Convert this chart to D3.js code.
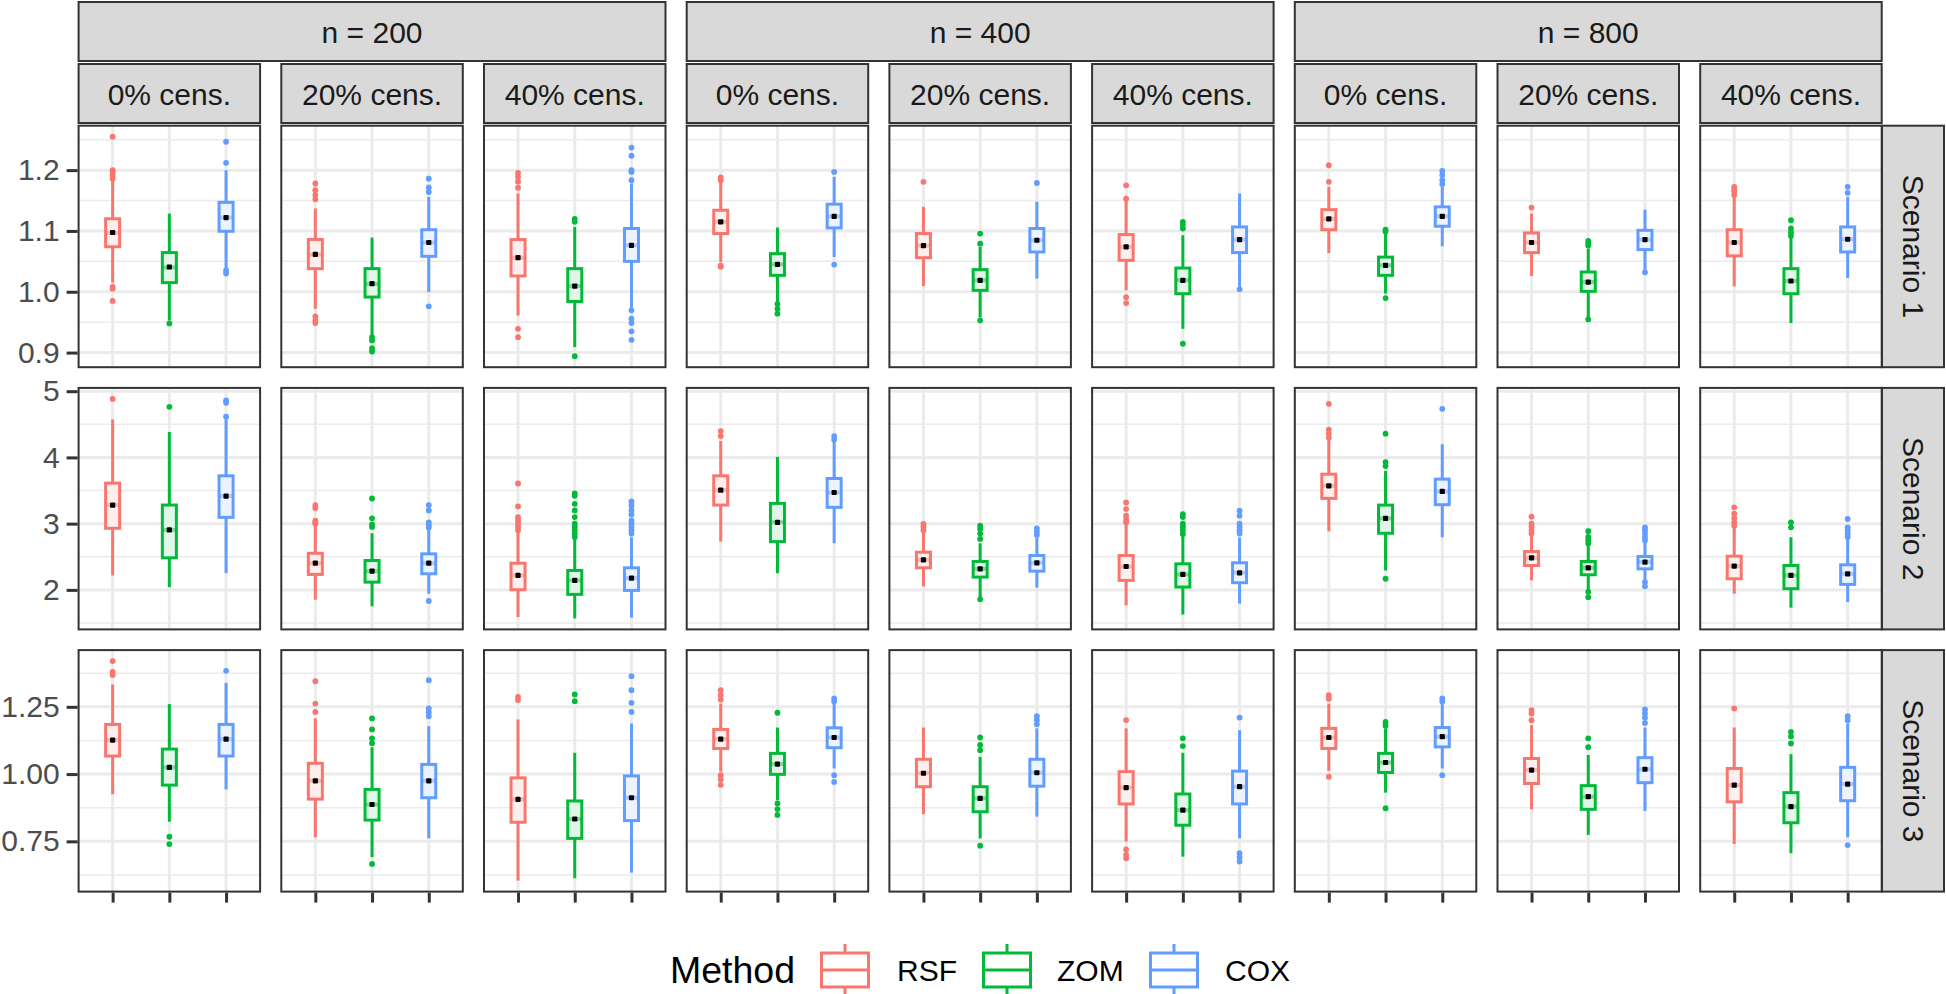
<!DOCTYPE html>
<html><head><meta charset="utf-8">
<script src="https://cdn.jsdelivr.net/npm/d3@7"></script>
<style>
body{margin:0;background:#fff}
text{font-family:"Liberation Sans",Arial,Helvetica,sans-serif}
</style>
</head><body><svg id="chart" width="1946" height="994"></svg>
<script>
// ---------- categories ----------
const nLevels = ["n = 200", "n = 400", "n = 800"];
const censLevels = ["0% cens.", "20% cens.", "40% cens."];
const scenarios = ["Scenario 1", "Scenario 2", "Scenario 3"];
const methods = ["RSF", "ZOM", "COX"];
const methodColors = ["#F8766D", "#00BA38", "#619CFF"];

// ---------- tick labels ----------
const s1Ticks = [0.9, 1.0, 1.1, 1.2];
const s1TickLabels = ["0.9", "1.0", "1.1", "1.2"];
const s2Ticks = [2, 3, 4, 5];
const s2TickLabels = ["2", "3", "4", "5"];
const s3Ticks = [0.75, 1.0, 1.25];
const s3TickLabels = ["0.75", "1.00", "1.25"];

// ---------- data: 9 panels (n200 0/20/40, n400 0/20/40, n800 0/20/40) x [RSF, ZOM, COX] ----------
// Scenario 1
const s1Lower  = [[1.015,0.953,1.038],[0.972,0.928,0.9995],[0.961,0.909,0.972],[1.049,0.983,1.057],[1.0094,0.958,1.0216],[1.0023,0.939,1.008],[1.0638,0.997,1.0748],[1.026,0.958,1.035],[1.009,0.9485,1.0226]];
const s1Q1     = [[1.074,1.015,1.0995],[1.038,0.9913,1.0583],[1.026,0.984,1.050],[1.0957,1.027,1.105],[1.056,1.0023,1.0654],[1.0517,0.9968,1.0644],[1.102,1.027,1.1077],[1.0644,1.0007,1.0693],[1.059,0.9968,1.0654]];
const s1Median = [[1.097,1.040,1.122],[1.061,1.013,1.081],[1.056,1.0094,1.0764],[1.115,1.045,1.124],[1.076,1.0188,1.0847],[1.0737,1.0188,1.0858],[1.1198,1.0435,1.124],[1.081,1.016,1.0858],[1.081,1.0177,1.0863]];
const s1Q3     = [[1.120,1.0644,1.147],[1.086,1.038,1.102],[1.0858,1.038,1.104],[1.134,1.0627,1.144],[1.0957,1.0364,1.104],[1.094,1.039,1.1066],[1.135,1.057,1.1396],[1.0967,1.0325,1.101],[1.102,1.038,1.1066]];
const s1Upper  = [[1.1835,1.1286,1.20],[1.137,1.089,1.156],[1.1616,1.1066,1.178],[1.1808,1.1056,1.189],[1.1396,1.0737,1.148],[1.1506,1.093,1.1616],[1.1725,1.0957,1.1725],[1.1286,1.071,1.135],[1.156,1.089,1.156]];
const s1Mean   = [[1.0974,1.0407,1.122],[1.0616,1.0133,1.081],[1.056,1.0094,1.0764],[1.115,1.045,1.124],[1.076,1.0188,1.0847],[1.0737,1.0188,1.0858],[1.1198,1.0435,1.124],[1.081,1.016,1.0858],[1.081,1.0177,1.0863]];
const s1Outliers = [
  [[1.255,1.2,1.197,1.192,1.186,1.008,1.005,0.985],[0.948],[1.2467,1.212,1.035,1.030]],
  [[1.178,1.167,1.159,1.152,0.9595,0.953,0.9485],[0.9254,0.920,0.9073,0.9018],[1.186,1.1715,1.164,0.976]],
  [[1.1956,1.189,1.181,1.171,0.939,0.9254],[1.12,1.115,0.894],[1.237,1.2236,1.2,1.197,1.1835,0.9695,0.9556,0.9485,0.935,0.921]],
  [[1.188,1.1835,1.0435,1.041],[0.980,0.972,0.964],[1.197,1.0447]],
  [[1.1808],[1.0957,1.079,0.953],[1.179]],
  [[1.175,1.153,0.991,0.9814],[1.115,1.110,1.104,0.9145],[1.004]],
  [[1.208,1.1808],[1.102,1.099,0.9896],[1.1989,1.192,1.1835,1.177]],
  [[1.1385],[1.0835,1.080,1.076,0.9545],[1.032]],
  [[1.1725,1.168,1.165,1.159],[1.1176,1.104,1.098,1.092],[1.1725,1.1626]]
];
// Scenario 2
const s2Lower  = [[2.218,2.042,2.253],[1.852,1.752,1.943],[1.591,1.569,1.581],[2.729,2.253,2.704],[2.053,1.88,2.033],[1.767,1.627,1.792],[2.885,2.293,2.794],[2.143,2.003,2.143],[1.943,1.732,1.817]];
const s2Q1     = [[2.93,2.484,3.095],[2.233,2.117,2.243],[2.003,1.932,1.992],[3.281,2.729,3.246],[2.333,2.193,2.283],[2.143,2.043,2.108],[3.381,2.855,3.286],[2.368,2.228,2.318],[2.168,2.018,2.083]];
const s2Median = [[3.281,2.905,3.416],[2.403,2.283,2.403],[2.218,2.143,2.178],[3.506,3.02,3.47],[2.454,2.318,2.409],[2.353,2.233,2.258],[3.571,3.08,3.486],[2.484,2.333,2.42],[2.358,2.218,2.243]];
const s2Q3     = [[3.612,3.281,3.722],[2.553,2.444,2.544],[2.403,2.293,2.333],[3.722,3.306,3.682],[2.569,2.429,2.519],[2.519,2.393,2.409],[3.747,3.28,3.672],[2.579,2.429,2.504],[2.509,2.368,2.378]];
const s2Upper  = [[4.574,4.383,4.574],[2.98,2.855,2.905],[2.88,2.77,2.794],[4.248,4.008,4.248],[2.87,2.704,2.79],[3.0,2.82,2.79],[4.28,3.797,4.198],[2.82,2.67,2.72],[2.94,2.794,2.77]];
const s2Mean   = [[3.281,2.905,3.416],[2.403,2.283,2.403],[2.218,2.143,2.178],[3.506,3.02,3.47],[2.454,2.318,2.409],[2.353,2.233,2.258],[3.571,3.08,3.486],[2.484,2.333,2.42],[2.358,2.218,2.243]];
const s2Outliers = [
  [[4.884],[4.764],[4.86,4.824,4.614]],
  [[3.28,3.236,3.045,3.02,3.0],[3.38,3.08,2.99,2.95],[3.28,3.2,3.02,2.98,2.94,1.832]],
  [[3.606,3.26,3.1,3.05,3.0,2.95,2.9],[3.456,3.42,3.3,3.2,3.1,3.0,2.95,2.9,2.85,2.8],[3.336,3.27,3.2,3.14,3.05,3.0,2.95,2.9,2.85]],
  [[4.398,4.323],[],[4.323,4.27]],
  [[2.995,2.95,2.9],[2.97,2.92,2.85,2.77,1.857],[2.93,2.88,2.83]],
  [[3.32,3.22,3.12,3.06,3.02],[3.145,3.1,3.0,2.95,2.9,2.845],[3.195,3.12,3.0,2.95,2.9,2.85]],
  [[4.81,4.42,4.36,4.3],[4.358,3.93,3.87,2.168],[4.734]],
  [[3.105,3.0,2.95,2.9,2.85],[2.885,2.8,2.75,2.7,1.97,1.89],[2.945,2.9,2.85,2.8,2.75,2.118,2.053]],
  [[3.246,3.15,3.08,3.02,2.97],[3.02,2.945],[3.07,2.945,2.9,2.85,2.8]]
];
// Scenario 3
const s3Lower  = [[0.925,0.823,0.943],[0.765,0.691,0.761],[0.604,0.613,0.634],[1.009,0.903,1.021],[0.851,0.761,0.842],[0.749,0.693,0.761],[1.012,0.931,1.021],[0.869,0.774,0.863],[0.74,0.706,0.765]];
const s3Q1     = [[1.067,0.959,1.067],[0.907,0.829,0.912],[0.821,0.761,0.827],[1.095,0.999,1.098],[0.953,0.86,0.955],[0.889,0.81,0.889],[1.095,1.006,1.101],[0.965,0.869,0.968],[0.897,0.819,0.901]];
const s3Median = [[1.126,1.025,1.13],[0.975,0.887,0.975],[0.906,0.833,0.912],[1.13,1.037,1.136],[1.003,0.91,1.005],[0.95,0.866,0.953],[1.136,1.043,1.139],[1.015,0.916,1.018],[0.959,0.879,0.963]];
const s3Q3     = [[1.1846,1.093,1.1846],[1.04,0.943,1.036],[0.986,0.90,0.993],[1.166,1.077,1.172],[1.055,0.953,1.055],[1.009,0.926,1.011],[1.17,1.077,1.173],[1.058,0.957,1.061],[1.021,0.931,1.025]];
const s3Upper  = [[1.333,1.26,1.339],[1.207,1.10,1.178],[1.203,1.079,1.188],[1.262,1.173,1.262],[1.173,1.064,1.17],[1.17,1.079,1.163],[1.262,1.17,1.262],[1.182,1.071,1.173],[1.173,1.074,1.188]];
const s3Mean   = [[1.126,1.025,1.13],[0.975,0.887,0.975],[0.906,0.833,0.912],[1.13,1.037,1.136],[1.003,0.91,1.005],[0.95,0.866,0.953],[1.136,1.043,1.139],[1.015,0.916,1.018],[0.959,0.879,0.963]];
const s3Outliers = [
  [[1.42,1.38,1.368],[0.767,0.74],[1.3837]],
  [[1.345,1.262,1.231],[1.207,1.166,1.133,1.115,0.666],[1.349,1.244,1.23,1.215]],
  [[1.287,1.275],[1.296,1.271],[1.364,1.312,1.265,1.231]],
  [[1.312,1.293,1.277,0.996,0.98,0.96],[1.228,0.891,0.87,0.848],[1.281,1.27,0.996,0.971]],
  [[],[1.136,1.108,1.089,0.734],[1.215,1.2,1.185]],
  [[1.2006,0.72,0.70,0.687],[1.133,1.104],[1.21,0.706,0.69,0.675]],
  [[1.293,1.28,0.99],[1.194,1.18,0.873],[1.281,1.27,0.996]],
  [[1.238,1.225,1.2],[1.133,1.10],[1.24,1.225,1.21,1.19]],
  [[1.244],[1.157,1.14,1.114],[1.215,1.2,0.736]]
];

// ---------- build rows from the named arrays ----------
const rows = [
  {label: scenarios[0], lower: s1Lower, q1: s1Q1, med: s1Median, q3: s1Q3, upper: s1Upper, mean: s1Mean, out: s1Outliers, ticks: s1Ticks, tickLabels: s1TickLabels},
  {label: scenarios[1], lower: s2Lower, q1: s2Q1, med: s2Median, q3: s2Q3, upper: s2Upper, mean: s2Mean, out: s2Outliers, ticks: s2Ticks, tickLabels: s2TickLabels},
  {label: scenarios[2], lower: s3Lower, q1: s3Q1, med: s3Median, q3: s3Q3, upper: s3Upper, mean: s3Mean, out: s3Outliers, ticks: s3Ticks, tickLabels: s3TickLabels}
];

// ---------- layout ----------
const plotLeft = 78.6, panelW = 181.5, panelStep = 202.7;
const rowTop0 = 125.7, panelH = 241.5, rowStep = 262.2;
const strip1 = [2, 61], strip2 = [64, 123];
const rStripX = [1882, 1944];
const grid = "#EBEBEB", dark = "#333333";
const FS = 30;

const svg = d3.select("#chart");
svg.append("rect").attr("width", 1946).attr("height", 994).attr("fill", "#fff");

function yDomain(r) {
  let all = [];
  for (let p = 0; p < 9; p++) for (let m = 0; m < 3; m++) {
    all.push(r.lower[p][m], r.upper[p][m], ...r.out[p][m]);
  }
  const [mn, mx] = d3.extent(all);
  const pad = (mx - mn) * 0.05;
  return [mn - pad, mx + pad];
}

rows.forEach((r, ri) => {
  const top = rowTop0 + ri * rowStep;
  const y = d3.scaleLinear().domain(yDomain(r)).range([top + panelH, top]);
  const dom = y.domain();
  const majStep = r.ticks[1] - r.ticks[0];
  const minors = [];
  for (let v = r.ticks[0] - majStep / 2; v <= dom[1]; v += majStep) if (v >= dom[0]) minors.push(v);

  for (let p = 0; p < 9; p++) {
    const left = plotLeft + p * panelStep;
    const x = d3.scalePoint().domain(methods).range([left, left + panelW]).padding(0.6);
    const g = svg.append("g");
    g.append("rect").attr("x", left).attr("y", top).attr("width", panelW).attr("height", panelH).attr("fill", "#fff");
    // minor grid
    g.selectAll(".mi").data(minors).join("line")
      .attr("x1", left).attr("x2", left + panelW).attr("y1", d => y(d)).attr("y2", d => y(d))
      .attr("stroke", grid).attr("stroke-width", 1.5);
    // major grid
    g.selectAll(".ma").data(r.ticks).join("line")
      .attr("x1", left).attr("x2", left + panelW).attr("y1", d => y(d)).attr("y2", d => y(d))
      .attr("stroke", grid).attr("stroke-width", 3);
    g.selectAll(".mv").data(methods).join("line")
      .attr("x1", d => x(d)).attr("x2", d => x(d)).attr("y1", top).attr("y2", top + panelH)
      .attr("stroke", grid).attr("stroke-width", 3);

    const boxW = x.step() * 0.3 - 3;
    methods.forEach((m, mi) => {
      const cx = x(m), col = methodColors[mi];
      const bg = g.append("g");
      // whiskers
      bg.append("line").attr("x1", cx).attr("x2", cx).attr("y1", y(r.upper[p][mi])).attr("y2", y(r.q3[p][mi]))
        .attr("stroke", col).attr("stroke-width", 3);
      bg.append("line").attr("x1", cx).attr("x2", cx).attr("y1", y(r.q1[p][mi])).attr("y2", y(r.lower[p][mi]))
        .attr("stroke", col).attr("stroke-width", 3);
      // box
      bg.append("rect").attr("x", cx - boxW / 2).attr("width", boxW)
        .attr("y", y(r.q3[p][mi])).attr("height", y(r.q1[p][mi]) - y(r.q3[p][mi]))
        .attr("fill", "#fff").attr("stroke", col).attr("stroke-width", 3);
      bg.append("rect").attr("x", cx - boxW / 2 + 1.5).attr("width", boxW - 3)
        .attr("y", y(r.q3[p][mi]) + 1.5).attr("height", Math.max(0, y(r.q1[p][mi]) - y(r.q3[p][mi]) - 3))
        .attr("fill", col).attr("fill-opacity", 0.12);
      // median
      bg.append("line").attr("x1", cx - boxW / 2).attr("x2", cx + boxW / 2)
        .attr("y1", y(r.med[p][mi])).attr("y2", y(r.med[p][mi]))
        .attr("stroke", col).attr("stroke-opacity", 0.45).attr("stroke-width", 4);
      // outliers
      bg.selectAll("circle").data(r.out[p][mi]).join("circle")
        .attr("cx", cx).attr("cy", d => y(d)).attr("r", 2.9).attr("fill", col);
      // mean
      bg.append("rect").attr("x", cx - 2.6).attr("y", y(r.mean[p][mi]) - 2.6)
        .attr("width", 5.2).attr("height", 5.2).attr("rx", 1).attr("fill", "#000");
    });
    // border
    g.append("rect").attr("x", left).attr("y", top).attr("width", panelW).attr("height", panelH)
      .attr("fill", "none").attr("stroke", dark).attr("stroke-width", 2);

    // x ticks under bottom row
    if (ri === 2) {
      const ax = svg.append("g").attr("transform", `translate(0,${top + panelH + 1})`)
        .call(d3.axisBottom(x).tickSize(10).tickFormat(""));
      ax.select(".domain").remove();
      ax.selectAll("line").attr("stroke", dark).attr("stroke-width", 3);
    }
  }

  // y axis
  const ay = svg.append("g").attr("transform", `translate(${plotLeft - 1},0)`)
    .call(d3.axisLeft(y).tickValues(r.ticks).tickFormat((d, i) => r.tickLabels[i]).tickSize(11).tickPadding(7));
  ay.select(".domain").remove();
  ay.selectAll("line").attr("stroke", dark).attr("stroke-width", 3);
  ay.selectAll("text").attr("font-size", FS).attr("fill", "#4D4D4D")
    .attr("font-family", "'Liberation Sans', Arial, sans-serif");

  // right strip
  svg.append("rect").attr("x", rStripX[0]).attr("y", top).attr("width", rStripX[1] - rStripX[0]).attr("height", panelH)
    .attr("fill", "#D9D9D9").attr("stroke", dark).attr("stroke-width", 2);
  const tcx = (rStripX[0] + rStripX[1]) / 2, tcy = top + panelH / 2;
  svg.append("text").attr("transform", `translate(${tcx},${tcy}) rotate(90)`)
    .attr("text-anchor", "middle").attr("dominant-baseline", "central")
    .attr("font-size", FS).attr("fill", "#1A1A1A").text(r.label);
});

// top strips
nLevels.forEach((nl, ni) => {
  const left = plotLeft + ni * 3 * panelStep;
  const right = left + 2 * panelStep + panelW;
  svg.append("rect").attr("x", left).attr("y", strip1[0]).attr("width", right - left).attr("height", strip1[1] - strip1[0])
    .attr("fill", "#D9D9D9").attr("stroke", dark).attr("stroke-width", 2);
  svg.append("text").attr("x", (left + right) / 2).attr("y", (strip1[0] + strip1[1]) / 2 + 1)
    .attr("text-anchor", "middle").attr("dominant-baseline", "central")
    .attr("font-size", FS).attr("fill", "#1A1A1A").text(nl);
  censLevels.forEach((cl, ci) => {
    const l2 = left + ci * panelStep;
    svg.append("rect").attr("x", l2).attr("y", strip2[0]).attr("width", panelW).attr("height", strip2[1] - strip2[0])
      .attr("fill", "#D9D9D9").attr("stroke", dark).attr("stroke-width", 2);
    svg.append("text").attr("x", l2 + panelW / 2).attr("y", (strip2[0] + strip2[1]) / 2 + 1)
      .attr("text-anchor", "middle").attr("dominant-baseline", "central")
      .attr("font-size", FS).attr("fill", "#1A1A1A").text(cl);
  });
});

// legend
const legY = 970;
const lg = svg.append("g");
lg.append("text").attr("x", 670).attr("y", legY).attr("dominant-baseline", "central")
  .attr("font-size", 37.5).attr("fill", "#000").text("Method");
const keyX = [820, 982, 1149], labX = [897, 1057, 1225];
methods.forEach((m, i) => {
  const col = methodColors[i], kx = keyX[i];
  lg.append("line").attr("x1", kx + 25).attr("x2", kx + 25).attr("y1", 944).attr("y2", 953).attr("stroke", col).attr("stroke-width", 3);
  lg.append("line").attr("x1", kx + 25).attr("x2", kx + 25).attr("y1", 987).attr("y2", 996).attr("stroke", col).attr("stroke-width", 3);
  lg.append("rect").attr("x", kx + 1.5).attr("y", 953).attr("width", 47).attr("height", 34)
    .attr("fill", "#fff").attr("stroke", col).attr("stroke-width", 3);
  lg.append("line").attr("x1", kx + 1.5).attr("x2", kx + 48.5).attr("y1", 970).attr("y2", 970).attr("stroke", col).attr("stroke-width", 3);
  lg.append("text").attr("x", labX[i]).attr("y", legY).attr("dominant-baseline", "central")
    .attr("font-size", FS).attr("fill", "#000").text(m);
});
</script></body></html>
